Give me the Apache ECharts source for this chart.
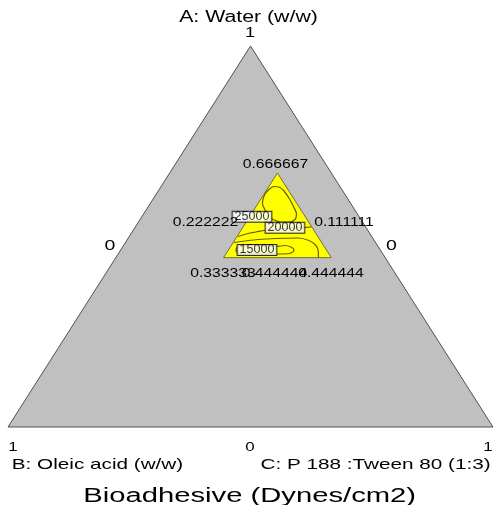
<!DOCTYPE html>
<html>
<head>
<meta charset="utf-8">
<title>Bioadhesive (Dynes/cm2)</title>
<script src="https://cdn.jsdelivr.net/npm/echarts@6/dist/echarts.min.js"></script>
<style>
  html, body { margin: 0; padding: 0; background: #fff; }
  #chart { width: 494px; height: 505px; }
</style>
</head>
<body>
<div id="chart"></div>
<script>
// components: A = water (top), B = oleic acid (bottom left), C = P188:Tween 80 (bottom right)
var outerVerts = [[1, 0, 0], [0, 1, 0], [0, 0, 1]];
var regionVerts = [[0.666667, 0.111111, 0.222222], [0.444444, 0.333333, 0.222222], [0.444444, 0.111111, 0.444444]];

// contour lines, as [A, C] (B = 1 - A - C)
var c25000 = [[0.5651, 0.2495], [0.5879, 0.2307], [0.6089, 0.2244], [0.6234, 0.2264], [0.6312, 0.2329],
  [0.6299, 0.2438], [0.6194, 0.2594], [0.5984, 0.2812], [0.5761, 0.3016], [0.5591, 0.3153],
  [0.5446, 0.3195], [0.5381, 0.3104], [0.5381, 0.2939], [0.5472, 0.2687]];
var c20000 = [[0.5000, 0.2242], [0.5066, 0.2374], [0.5118, 0.2554], [0.5171, 0.2755], [0.5210, 0.3106],
  [0.5236, 0.3464], [0.5249, 0.3633]];
var c17500 = [[0.4843, 0.2239], [0.4882, 0.2446], [0.4921, 0.2694], [0.4948, 0.3031], [0.4961, 0.3499],
  [0.4895, 0.3758], [0.4777, 0.3952], [0.4646, 0.4069], [0.4444, 0.4180]];
var c15000 = [[0.4724, 0.2360], [0.4751, 0.2615], [0.4738, 0.3157], [0.4764, 0.3329], [0.4724, 0.3473],
  [0.4646, 0.3574], [0.4567, 0.3552], [0.4541, 0.3421], [0.4541, 0.3132], [0.4541, 0.2720],
  [0.4567, 0.2459], [0.4646, 0.2378], [0.4724, 0.2360]];

var contourNames = ['25000', '20000', '15000'];
var contourLabelAt = [[0.5520, 0.2271], [0.5231, 0.3095], [0.4646, 0.2811]];

// tick labels at vertices / edges
var outerTicks = ['1', '0', '0', '1', '0', '1'];
var regionTicks = ['0.666667', '0.222222', '0.111111', '0.333333', '0.444444', '0.444444'];
var axisTitles = ['A: Water (w/w)', 'B: Oleic acid (w/w)', 'C: P 188 :Tween 80 (1:3)'];
var chartTitle = 'Bioadhesive (Dynes/cm2)';

// ternary -> plane: x = C + A/2, y = A
function toXY(a, c) { return [c + a / 2, a]; }
function triData(verts) {
  var d = [];
  verts.forEach(function (v) { d = d.concat(toXY(v[0], v[2])); });
  return [d];
}
function lineData(arr) {
  return arr.map(function (p) { return toXY(p[0], p[1]); });
}
function triRender(fill, stroke) {
  return function (params, api) {
    var pts = [];
    for (var i = 0; i < 3; i++) pts.push(api.coord([api.value(i * 2), api.value(i * 2 + 1)]));
    return { type: 'polygon', shape: { points: pts }, style: { fill: fill, stroke: stroke, lineWidth: 1 } };
  };
}

var font = '"Liberation Sans", Arial, sans-serif';
function txt(s, x, y, size, sx) {
  return {
    type: 'text', x: x, y: y, scaleX: sx, z: 100,
    style: { text: s, x: 0, y: 0, font: size + 'px ' + font, fill: '#000',
      textAlign: 'center', textVerticalAlign: 'middle' }
  };
}

var contourStyle = { color: '#6b5e00', width: 1.2 };
function contour(arr) {
  return { type: 'line', data: lineData(arr), smooth: 0.3, showSymbol: false, z: 3,
    lineStyle: contourStyle, silent: true };
}

var chart = echarts.init(document.getElementById('chart'));
var option = {
  animation: false,
  grid: { left: 8, top: 46, width: 485, height: 381 },
  xAxis: { type: 'value', min: 0, max: 1, show: false },
  yAxis: { type: 'value', min: 0, max: 1, show: false },
  series: [
    { type: 'custom', renderItem: triRender('#c0c0c0', '#505050'), data: triData(outerVerts), z: 1, silent: true },
    { type: 'custom', renderItem: triRender('#ffff00', '#6e6e40'), data: triData(regionVerts), z: 2, silent: true },
    contour(c25000),
    contour(c20000),
    contour(c17500),
    contour(c15000),
    {
      type: 'scatter', symbolSize: 0, z: 5, silent: true,
      data: contourLabelAt.map(function (p, i) { return { name: contourNames[i], value: toXY(p[0], p[1]) }; }),
      label: {
        show: true, position: 'inside', formatter: '{b}', color: '#000',
        fontFamily: font, fontSize: 12.5, lineHeight: 10,
        backgroundColor: '#fff', borderColor: '#000', borderWidth: 1, padding: [0, 2, 0, 2]
      }
    }
  ],
  graphic: [
    txt(axisTitles[0], 248.5, 17.5, 16, 1.33),
    txt(outerTicks[0], 250, 33, 14, 1.3),
    txt(outerTicks[1], 110, 246, 15, 1.3),
    txt(outerTicks[2], 391.5, 246, 15, 1.3),
    txt(outerTicks[3], 13, 447.5, 13, 1.3),
    txt(outerTicks[4], 250, 447.5, 13, 1.3),
    txt(outerTicks[5], 488, 447.5, 13, 1.3),
    txt(axisTitles[1], 97.5, 464.5, 15, 1.38),
    txt(axisTitles[2], 375.5, 464.5, 15, 1.38),
    txt(chartTitle, 249.7, 496, 20, 1.46),
    txt(regionTicks[0], 275.5, 165, 12, 1.31),
    txt(regionTicks[1], 205.5, 222.8, 12, 1.31),
    txt(regionTicks[2], 344, 222.8, 12, 1.31),
    txt(regionTicks[3], 223, 273.3, 12, 1.31),
    txt(regionTicks[4], 274.5, 273.3, 12, 1.31),
    txt(regionTicks[5], 331, 273.3, 12, 1.31)
  ]
};
chart.setOption(option);
</script>
</body>
</html>
